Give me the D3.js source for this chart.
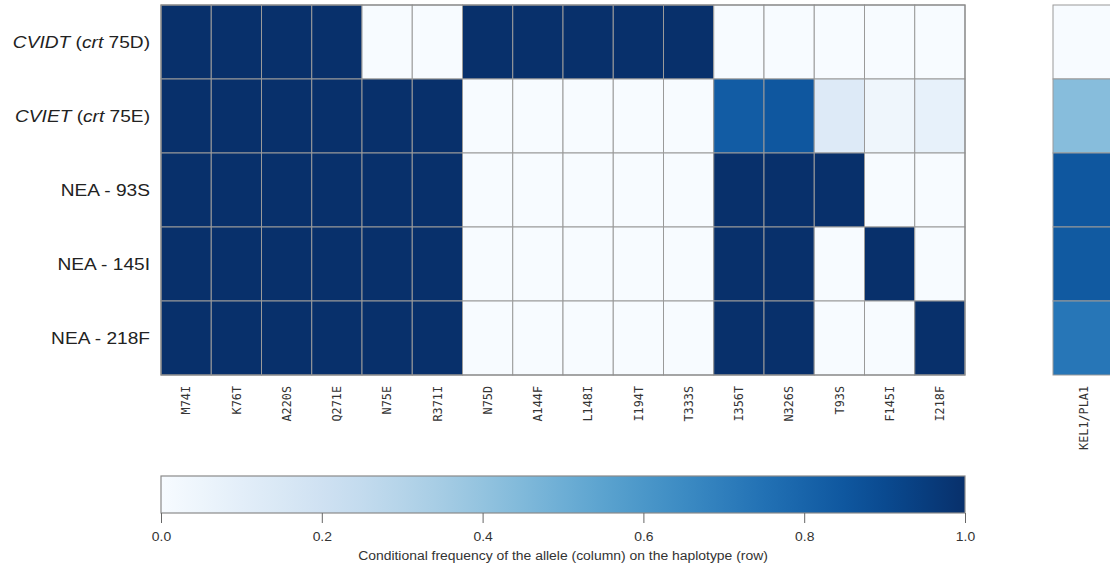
<!DOCTYPE html>
<html>
<head>
<meta charset="utf-8">
<script src="https://cdn.jsdelivr.net/npm/d3@7"></script>
<style>
  html, body { margin: 0; padding: 0; background: #fff; }
  svg { display: block; }
</style>
</head>
<body>
<svg id="chart" width="1110" height="569"></svg>
<script>
// Haplotypes (rows) and alleles (columns)
const haplotypes = [
  { parts: [["CVIDT", true], [" (", false], ["crt", true], [" 75D)", false]] },
  { parts: [["CVIET", true], [" (", false], ["crt", true], [" 75E)", false]] },
  { parts: [["NEA - 93S", false]] },
  { parts: [["NEA - 145I", false]] },
  { parts: [["NEA - 218F", false]] }
];
const alleles = ["M74I", "K76T", "A220S", "Q271E", "N75E", "R371I", "N75D", "A144F",
                 "L148I", "I194T", "T333S", "I356T", "N326S", "T93S", "F145I", "I218F"];

// Conditional frequency of each allele on each haplotype
const freqCVIDT  = [1, 1, 1, 1, 0, 0, 1, 1, 1, 1, 1, 0, 0, 0, 0, 0];
const freqCVIET  = [1, 1, 1, 1, 1, 1, 0, 0, 0, 0, 0, 0.83, 0.85, 0.13, 0.04, 0.08];
const freqNEA93  = [1, 1, 1, 1, 1, 1, 0, 0, 0, 0, 0, 1, 1, 1, 0, 0];
const freqNEA145 = [1, 1, 1, 1, 1, 1, 0, 0, 0, 0, 0, 1, 1, 0, 1, 0];
const freqNEA218 = [1, 1, 1, 1, 1, 1, 0, 0, 0, 0, 0, 1, 1, 0, 0, 1];
const freqRows = [freqCVIDT, freqCVIET, freqNEA93, freqNEA145, freqNEA218];

// Separate gene panel
const geneLabel = ["KEL1/PLA1"];
const geneFreq = [0, 0.43, 0.85, 0.84, 0.73];

const colorbarTicks = [0, 0.2, 0.4, 0.6, 0.8, 1.0];
const colorbarTitle = "Conditional frequency of the allele (column) on the haplotype (row)";

const svg = d3.select("#chart");
const color = d3.scaleSequential(d3.interpolateBlues).domain([0, 1]);
const sansFont = "'Liberation Sans', Arial, sans-serif";
const stretchX = 1.16; // text is set slightly wide

const mapTop = 5, mapBottom = 375;
const x = d3.scaleBand().domain(alleles).range([161, 965]);
const y = d3.scaleBand().domain(d3.range(haplotypes.length)).range([mapTop, mapBottom]);
const xGene = d3.scaleBand().domain(geneLabel).range([1053, 1115]);

const cells = [];
freqRows.forEach((row, r) => row.forEach((v, c) => cells.push({ r, col: alleles[c], v })));

const gridStroke = "#9a9a9a";

// Main heatmap
svg.append("g").selectAll("rect").data(cells).join("rect")
  .attr("x", d => x(d.col))
  .attr("y", d => y(d.r))
  .attr("width", x.bandwidth())
  .attr("height", y.bandwidth())
  .attr("fill", d => color(d.v))
  .attr("stroke", gridStroke)
  .attr("stroke-width", 1);

svg.append("rect")
  .attr("x", 161).attr("y", mapTop)
  .attr("width", 965 - 161).attr("height", mapBottom - mapTop)
  .attr("fill", "none").attr("stroke", "#8a8a8a").attr("stroke-width", 1.2);

// Gene panel
svg.append("g").selectAll("rect").data(geneFreq).join("rect")
  .attr("x", xGene(geneLabel[0]))
  .attr("y", (d, i) => y(i))
  .attr("width", xGene.bandwidth())
  .attr("height", y.bandwidth())
  .attr("fill", d => color(d))
  .attr("stroke", gridStroke)
  .attr("stroke-width", 1);

// Row labels
const rowG = svg.append("g")
  .attr("font-family", sansFont)
  .attr("font-size", 16.5)
  .attr("fill", "#222");
haplotypes.forEach((h, i) => {
  const t = rowG.append("text")
    .attr("transform", `translate(150,${y(i) + y.bandwidth() / 2}) scale(${stretchX},1)`)
    .attr("dy", "0.35em")
    .attr("text-anchor", "end");
  h.parts.forEach(([s, it]) => {
    t.append("tspan").text(s).attr("font-style", it ? "italic" : "normal");
  });
});

// Column labels (rotated)
const colFont = "'DejaVu Sans Mono', monospace";
svg.append("g").selectAll("text").data(alleles).join("text")
  .attr("transform", d => `translate(${x(d) + x.bandwidth() / 2},386) rotate(-90)`)
  .attr("dy", "0.35em")
  .attr("text-anchor", "end")
  .attr("font-family", colFont)
  .attr("font-size", 11.8)
  .attr("fill", "#333")
  .text(d => d);

svg.append("g").selectAll("text").data(geneLabel).join("text")
  .attr("transform", d => `translate(${xGene(d) + 31},386) rotate(-90)`)
  .attr("dy", "0.35em")
  .attr("text-anchor", "end")
  .attr("font-family", colFont)
  .attr("font-size", 11.8)
  .attr("fill", "#333")
  .text(d => d);

// Colour bar
const cbX = d3.scaleLinear().domain([0, 1]).range([161, 965]);
const cbTop = 476, cbBottom = 513;
const defs = svg.append("defs");
const grad = defs.append("linearGradient").attr("id", "cbGrad")
  .attr("x1", "0%").attr("x2", "100%").attr("y1", "0%").attr("y2", "0%");
d3.range(0, 1.0001, 0.05).forEach(t => {
  grad.append("stop").attr("offset", `${t * 100}%`).attr("stop-color", color(t));
});
svg.append("rect")
  .attr("x", cbX(0)).attr("y", cbTop)
  .attr("width", cbX(1) - cbX(0)).attr("height", cbBottom - cbTop)
  .attr("fill", "url(#cbGrad)")
  .attr("stroke", "#8a8a8a").attr("stroke-width", 1.2);

const cbAxis = svg.append("g")
  .attr("transform", `translate(0,${cbBottom})`)
  .call(d3.axisBottom(cbX).tickValues(colorbarTicks).tickFormat(d3.format(".1f")).tickSize(10).tickPadding(0));
cbAxis.select(".domain").remove();
cbAxis.selectAll(".tick line").attr("stroke", "#666");
cbAxis.selectAll(".tick text")
  .attr("font-family", sansFont)
  .attr("font-size", 12)
  .attr("fill", "#333")
  .attr("y", 0)
  .attr("dy", 0)
  .attr("transform", `translate(0,28) scale(${stretchX},1)`);

svg.append("text")
  .attr("transform", `translate(${(cbX(0) + cbX(1)) / 2},560) scale(${stretchX},1)`)
  .attr("text-anchor", "middle")
  .attr("font-family", sansFont)
  .attr("font-size", 12)
  .attr("fill", "#333")
  .text(colorbarTitle);
</script>
</body>
</html>
